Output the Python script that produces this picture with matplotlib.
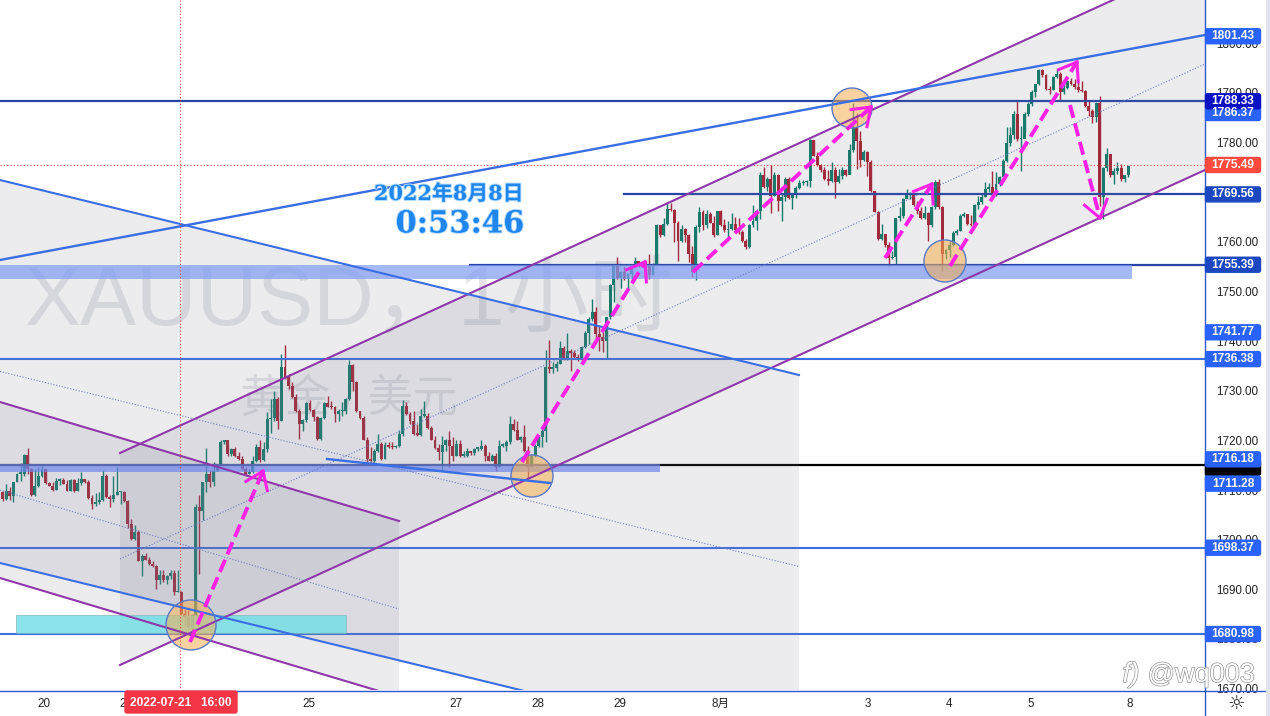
import math
import numpy as np
import matplotlib
matplotlib.use('Agg')
import matplotlib.pyplot as plt
import matplotlib.patches as mpatches
import matplotlib.patheffects as pe

plt.rcParams['font.family'] = ['Liberation Sans', 'Noto Sans CJK SC', 'DejaVu Sans']

# hourly XAUUSD bars
first_open = 1709.6
closes = [
    1708.2, 1709.9, 1708.7, 1711.6, 1713.3, 1713.3, 1717.0, 1714.3, 1708.9, 1710.9, 1712.9, 1714.3, 1711.4, 1710.9, 1710.1, 1711.9,
    1712.1, 1711.3, 1709.9, 1712.1, 1709.8, 1711.4, 1712.3, 1711.6, 1708.4, 1707.1, 1707.6, 1708.0, 1712.9, 1708.6, 1708.2, 1708.9,
    1709.6, 1709.6, 1707.8, 1703.1, 1700.2, 1701.5, 1695.7, 1696.8, 1695.9, 1695.0, 1694.6, 1691.9, 1692.8, 1691.9, 1692.6, 1693.3,
    1689.4, 1689.4, 1685.1, 1684.4, 1682.4, 1684.9, 1706.6, 1705.8, 1711.6, 1713.3, 1711.6, 1713.8, 1715.0, 1719.7,
    1720.0, 1717.3, 1718.3, 1716.9, 1716.2, 1714.2, 1713.2, 1713.6, 1715.8, 1718.7, 1716.0, 1718.3, 1724.3, 1724.5, 1728.3, 1724.0,
    1734.7, 1732.7, 1731.0, 1728.7, 1726.0, 1723.3, 1724.1, 1727.5, 1726.1, 1724.8, 1720.3, 1724.5, 1727.5, 1726.8, 1726.7, 1725.3,
    1725.9, 1726.0, 1728.3, 1735.1, 1731.7, 1725.9, 1724.5, 1720.1, 1716.2, 1715.8, 1717.9, 1719.3, 1716.2, 1719.1, 1718.7, 1718.6,
    1718.9, 1721.3, 1727.0, 1725.3, 1724.0, 1721.3, 1721.1, 1725.0, 1725.0, 1722.5, 1720.1, 1718.5, 1717.6, 1719.1, 1720.1, 1718.9,
    1716.9, 1719.3, 1716.9, 1716.9, 1717.8, 1717.4, 1718.3, 1718.3, 1718.9, 1716.9, 1715.9, 1716.9, 1714.7, 1718.9, 1718.9, 1719.6,
    1723.4, 1722.1, 1720.1, 1720.6, 1717.9, 1714.6, 1716.9, 1718.9, 1720.6,
    1721.9, 1734.7, 1734.4, 1734.6, 1735.4, 1738.7, 1736.4, 1738.1, 1737.7, 1736.7, 1736.1, 1738.9, 1741.6, 1744.5, 1745.8, 1741.4,
    1740.8, 1740.1, 1744.8, 1751.4, 1755.2, 1752.7, 1753.9, 1752.5, 1753.5, 1755.2, 1756.1, 1755.4, 1755.9, 1755.2, 1753.4, 1755.5,
    1763.3, 1761.3, 1763.6, 1766.6, 1766.4, 1763.9, 1760.2, 1762.6, 1761.3, 1757.6, 1753.9, 1762.9, 1766.0, 1763.3, 1765.6, 1763.9,
    1761.3, 1766.2, 1763.3, 1762.3, 1762.6, 1763.6, 1762.3, 1761.9, 1760.2, 1758.9, 1763.3, 1764.3, 1766.3,
    1773.5, 1771.1, 1772.7, 1769.3, 1773.5, 1768.3, 1769.1, 1772.7, 1768.8, 1769.6, 1770.9, 1771.8, 1772.0, 1772.3, 1780.5, 1777.4,
    1775.4, 1774.5, 1772.7, 1772.3, 1774.4, 1772.0, 1773.3, 1774.4, 1773.5, 1778.5, 1783.2, 1780.3, 1776.5, 1778.1, 1776.0, 1770.2,
    1766.1, 1760.6, 1761.5, 1759.4, 1756.7, 1756.9, 1764.8, 1765.3, 1768.6, 1769.6, 1769.6, 1767.5, 1766.3, 1764.9, 1765.8, 1763.3,
    1767.0, 1772.0, 1767.0, 1757.6,
    1758.3, 1759.4, 1761.7, 1762.2, 1765.3, 1765.6, 1763.6, 1763.3, 1767.5, 1768.0, 1769.1, 1770.6, 1771.1, 1769.5, 1771.7, 1773.0,
    1776.2, 1779.9, 1781.6, 1785.8, 1780.7, 1780.7, 1785.8, 1787.8, 1790.1, 1791.8, 1794.6, 1793.7, 1790.8, 1790.6, 1793.3, 1793.8,
    1790.1, 1791.1, 1792.4, 1791.8, 1791.3, 1790.6, 1790.3, 1787.4, 1786.4, 1785.2, 1787.9, 1769.0, 1774.9, 1777.8, 1773.5, 1774.3,
    1774.9, 1772.7, 1773.5, 1775.3,
]
highs = [
    1709.9, 1711.3, 1710.6, 1711.6, 1713.4, 1715.4, 1717.2, 1718.5, 1714.5, 1714.3, 1714.6, 1715.2, 1714.3, 1711.6, 1711.6, 1712.5,
    1712.4, 1712.4, 1712.1, 1712.3, 1712.3, 1712.5, 1713.6, 1712.3, 1712.1, 1708.9, 1709.4, 1709.6, 1714.0, 1713.3, 1708.9, 1712.9,
    1714.6, 1709.9, 1709.9, 1707.9, 1704.2, 1702.9, 1701.9, 1697.2, 1697.3, 1696.5, 1695.7, 1694.8, 1693.8, 1693.8, 1692.8, 1693.8,
    1693.9, 1693.8, 1689.6, 1686.1, 1685.9, 1685.1, 1707.2, 1708.9, 1711.6, 1718.5, 1714.0, 1715.6, 1715.3, 1720.0,
    1720.1, 1719.3, 1718.5, 1718.7, 1717.6, 1716.9, 1714.7, 1714.2, 1716.9, 1719.3, 1720.0, 1719.6, 1725.7, 1728.3, 1730.0, 1728.7,
    1737.4, 1739.3, 1733.4, 1731.7, 1729.3, 1726.3, 1724.3, 1727.7, 1728.1, 1726.3, 1725.0, 1724.8, 1727.7, 1729.0, 1728.0, 1727.0,
    1726.3, 1727.7, 1728.5, 1736.1, 1735.3, 1732.0, 1726.0, 1725.0, 1720.6, 1718.6, 1718.3, 1721.3, 1719.6, 1719.6, 1719.7, 1719.6,
    1719.1, 1722.0, 1728.1, 1727.7, 1725.7, 1726.0, 1723.3, 1726.3, 1728.0, 1725.5, 1722.8, 1720.9, 1719.3, 1720.9, 1720.3, 1721.8,
    1720.6, 1720.0, 1720.1, 1717.9, 1718.5, 1717.8, 1718.5, 1718.7, 1720.1, 1719.3, 1717.6, 1717.3, 1717.4, 1720.0, 1719.4, 1720.1,
    1725.0, 1724.3, 1724.0, 1720.9, 1723.0, 1718.9, 1717.3, 1719.3, 1720.9,
    1722.3, 1738.2, 1740.2, 1735.7, 1735.9, 1740.1, 1739.1, 1741.6, 1738.4, 1738.2, 1737.4, 1739.1, 1742.1, 1744.9, 1748.5, 1746.8,
    1743.1, 1741.8, 1744.9, 1751.5, 1755.5, 1756.9, 1754.2, 1755.2, 1753.7, 1755.2, 1756.9, 1756.2, 1756.2, 1756.2, 1757.6, 1755.7,
    1763.6, 1763.3, 1764.9, 1767.8, 1767.8, 1766.6, 1764.3, 1763.3, 1762.8, 1761.6, 1759.2, 1763.3, 1767.0, 1766.4, 1766.4, 1766.0,
    1765.3, 1766.3, 1766.4, 1764.6, 1764.3, 1765.8, 1765.0, 1764.8, 1762.4, 1760.6, 1763.6, 1767.5, 1766.6,
    1774.0, 1775.0, 1773.0, 1775.4, 1774.0, 1773.7, 1769.6, 1773.0, 1773.0, 1769.6, 1771.3, 1772.5, 1772.5, 1772.5, 1780.7, 1780.5,
    1778.1, 1775.7, 1775.0, 1774.5, 1776.0, 1775.0, 1774.7, 1775.0, 1774.7, 1779.7, 1788.0, 1786.0, 1782.4, 1778.5, 1778.4, 1776.4,
    1770.3, 1766.3, 1763.6, 1761.6, 1759.9, 1758.2, 1764.9, 1767.0, 1768.8, 1770.7, 1770.0, 1769.6, 1768.3, 1767.0, 1767.3, 1766.0,
    1767.3, 1772.4, 1772.7, 1767.3,
    1758.5, 1760.2, 1762.1, 1762.6, 1765.7, 1766.1, 1765.6, 1765.5, 1767.6, 1769.3, 1769.6, 1772.0, 1771.8, 1774.3, 1774.0, 1773.3,
    1776.7, 1783.1, 1783.1, 1786.4, 1788.3, 1783.4, 1786.1, 1788.1, 1790.6, 1791.9, 1794.8, 1794.8, 1793.8, 1791.5, 1793.5, 1794.8,
    1794.2, 1792.4, 1792.5, 1793.0, 1792.8, 1792.5, 1792.4, 1790.6, 1788.6, 1786.8, 1788.1, 1789.3, 1775.1, 1778.9, 1777.8, 1774.9,
    1776.0, 1775.7, 1773.5, 1775.3,
]
lows = [
    1707.8, 1708.0, 1708.0, 1707.6, 1711.6, 1711.9, 1712.9, 1713.3, 1708.7, 1708.7, 1710.6, 1712.6, 1711.3, 1710.8, 1709.9, 1710.1,
    1711.1, 1711.3, 1709.8, 1709.8, 1709.6, 1709.8, 1711.1, 1711.5, 1708.2, 1706.1, 1706.8, 1707.2, 1707.8, 1708.4, 1706.6, 1707.6,
    1708.9, 1707.2, 1707.6, 1702.4, 1700.0, 1700.0, 1695.7, 1692.6, 1695.8, 1694.8, 1694.5, 1690.1, 1691.1, 1691.4, 1691.0, 1692.1,
    1688.8, 1689.4, 1685.1, 1682.7, 1682.2, 1681.0, 1684.4, 1693.1, 1703.9, 1709.6, 1710.6, 1710.9, 1713.8, 1715.0,
    1719.3, 1716.9, 1716.9, 1716.6, 1716.0, 1714.0, 1713.1, 1713.2, 1713.4, 1715.6, 1715.6, 1715.9, 1717.6, 1721.4, 1724.0, 1722.3,
    1724.0, 1732.4, 1730.4, 1728.5, 1725.7, 1720.3, 1721.8, 1723.7, 1726.0, 1724.0, 1720.1, 1720.0, 1724.3, 1726.7, 1726.3, 1723.8,
    1724.0, 1725.0, 1725.3, 1728.1, 1730.0, 1725.7, 1724.3, 1720.0, 1715.1, 1715.1, 1715.4, 1717.6, 1716.0, 1716.2, 1718.5, 1718.3,
    1718.5, 1718.6, 1720.9, 1725.2, 1723.3, 1721.1, 1720.9, 1720.9, 1724.8, 1722.3, 1720.0, 1718.3, 1716.0, 1713.8, 1717.9, 1714.6,
    1715.9, 1716.9, 1716.6, 1716.7, 1716.7, 1717.1, 1717.1, 1717.9, 1718.1, 1715.9, 1715.8, 1715.8, 1713.8, 1714.6, 1718.6, 1717.9,
    1719.3, 1721.8, 1720.0, 1719.6, 1717.6, 1711.9, 1714.6, 1716.6, 1718.6,
    1718.6, 1719.6, 1733.5, 1733.5, 1733.9, 1735.4, 1736.1, 1736.1, 1734.0, 1736.4, 1735.9, 1735.7, 1738.7, 1739.5, 1744.1, 1740.4,
    1738.1, 1737.9, 1736.4, 1744.5, 1747.8, 1752.5, 1750.8, 1752.3, 1750.5, 1752.3, 1754.7, 1755.0, 1755.2, 1752.7, 1752.5, 1753.4,
    1755.4, 1760.9, 1761.1, 1763.3, 1766.2, 1759.9, 1756.2, 1759.9, 1759.9, 1755.9, 1753.0, 1752.3, 1761.9, 1762.3, 1762.8, 1763.7,
    1760.9, 1761.3, 1763.1, 1761.9, 1760.6, 1762.4, 1762.1, 1761.6, 1759.9, 1758.6, 1758.8, 1762.9, 1762.3,
    1764.6, 1770.9, 1770.3, 1765.8, 1769.3, 1766.3, 1764.3, 1768.3, 1768.6, 1766.6, 1768.9, 1770.7, 1771.5, 1771.3, 1771.1, 1777.2,
    1775.2, 1774.0, 1772.5, 1771.5, 1772.0, 1768.9, 1771.8, 1772.7, 1773.3, 1773.7, 1778.2, 1774.7, 1775.0, 1776.2, 1773.3, 1770.0,
    1766.0, 1760.4, 1760.4, 1758.9, 1755.2, 1756.6, 1755.6, 1764.3, 1764.9, 1768.8, 1768.6, 1767.3, 1765.6, 1764.6, 1764.6, 1760.2,
    1762.9, 1766.6, 1766.6, 1754.2,
    1756.5, 1756.9, 1759.2, 1761.4, 1762.2, 1765.0, 1763.4, 1763.1, 1763.1, 1766.6, 1767.6, 1769.0, 1770.0, 1769.3, 1769.3, 1771.3,
    1772.9, 1776.0, 1779.4, 1780.7, 1780.4, 1774.3, 1782.1, 1785.4, 1787.4, 1789.1, 1791.7, 1793.3, 1790.5, 1789.8, 1790.5, 1793.0,
    1788.6, 1789.8, 1790.8, 1791.7, 1790.8, 1790.1, 1790.1, 1787.1, 1785.4, 1783.9, 1784.1, 1767.3, 1764.6, 1774.3, 1773.0, 1771.7,
    1773.7, 1772.3, 1772.0, 1773.0,
]
opens = [first_open] + closes[:-1]

price_ticks = [1670, 1680, 1690, 1700, 1710, 1720, 1730, 1740, 1750, 1760, 1770, 1780, 1790, 1800]
day_bars = [11.6, 34.5, 85.7, 126.9, 149.8, 172.8, 201.0, 242.0, 264.9, 287.8, 315.5]
day_labels = ['20', '21', '25', '27', '28', '29', '8月', '3', '4', '5', '8']

# horizontal levels
levels_blue = [1736.38, 1698.37, 1680.98]
levels_dark = [1788.33]
level_black = 1715.1
level_last = 1775.49

# price tags on the right scale
tag_prices = [1801.43, 1786.37, 1788.33, 1775.49, 1769.56, 1755.39, 1741.77, 1736.38, 1714.7, 1716.18, 1711.28, 1698.37, 1680.98]
tag_colors = ['#2962ff', '#2962ff', '#0a12c4', '#ff4a3d', '#1b48c0', '#1b48c0', '#2962ff', '#2962ff', '#000000', '#2962ff', '#2962ff', '#2962ff', '#2962ff']
tag_shift = [0, 2, 0, 0, 0, 0, 0, 0, 1, 0, 0, 0, 0]

W, H = 1270, 716
PLOT_R, PLOT_B = 1205, 690
UP, DOWN = '#0a7a66', '#a81f2e'
PURPLE = '#8f37aa'
BLUE = '#3a6ee4'
DARK = '#2444a8'
MAGENTA = '#ff22e6'
GREYFILL = '#7a7a92'

fig = plt.figure(figsize=(W / 100, H / 100), dpi=100, facecolor='white')
ax = fig.add_axes([0, 1 - PLOT_B / H, PLOT_R / W, PLOT_B / H])
ax.set_xlim(-2.7 / 3.573, (PLOT_R - 2.7) / 3.573)
ax.set_ylim(1780 - (PLOT_B - 142.6) / 4.963, 1780 + 142.6 / 4.963)
for s in ax.spines.values():
    s.set_visible(False)
ax.yaxis.tick_right()
ax.set_yticks(price_ticks)
ax.set_yticklabels(['%.2f' % p for p in price_ticks], fontsize=8.4, color='#222222')
ax.set_xticks(day_bars)
ax.set_xticklabels(day_labels, fontsize=8.4, color='#222222')
ax.tick_params(axis='y', length=0, pad=8)
ax.tick_params(axis='x', length=0, pad=6)

# watermark goes under the bars
wm = ax.transAxes
ax.text(24 / PLOT_R, 1 - 303 / PLOT_B, 'XAUUSD，1小时', transform=wm, fontsize=60.5, color=GREYFILL, alpha=0.2,
        ha='left', va='center', zorder=0)
ax.text(240 / PLOT_R, 1 - 400 / PLOT_B, '黄金 / 美元', transform=wm, fontsize=32.5, color=GREYFILL, alpha=0.2,
        ha='left', va='center', zorder=0)

# candles
x = np.arange(len(closes))
o = np.array(opens)
c = np.array(closes)
colors = [UP if cl >= op else DOWN for op, cl in zip(o, c)]
ax.vlines(x, lows, highs, colors=colors, linewidth=1.0, zorder=2)
ax.bar(x, np.maximum(np.abs(c - o), 0.3), bottom=np.minimum(o, c), width=0.82, color=colors, linewidth=0, zorder=3)

# levels drawn by price
for lv in levels_blue:
    ax.axhline(lv, color=BLUE, lw=1.5, zorder=4)
for lv in levels_dark:
    ax.axhline(lv, color=DARK, lw=1.6, zorder=4)
ax.axhline(level_black, color='black', lw=1.6, zorder=4)
ax.axhline(level_last, color='#e0453a', lw=0.8, ls=(0, (1, 2)), zorder=4)
ax.plot([(624 - 2.7) / 3.573, ax.get_xlim()[1]], [1769.56, 1769.56], color=DARK, lw=1.6, zorder=4)
ax.plot([(470 - 2.7) / 3.573, ax.get_xlim()[1]], [1755.39, 1755.39], color=DARK, lw=1.6, zorder=4)

# drawings sit on top, in pixel coordinates of the screenshot
pix = fig.add_axes([0, 0, 1, 1])
pix.set_xlim(0, W)
pix.set_ylim(H, 0)
pix.axis('off')
area = mpatches.Rectangle((0, 0), PLOT_R, PLOT_B, transform=pix.transData)


def clipped(artist):
    artist.set_clip_path(area)
    return artist


def channel(x0, x1, top0, top1, bot0, bot1, color):
    poly = mpatches.Polygon([(x0, top0), (x1, top1), (x1, bot1), (x0, bot0)], closed=True,
                            facecolor=GREYFILL, alpha=0.14, linewidth=0, zorder=1)
    pix.add_patch(poly)
    clipped(poly)
    clipped(pix.plot([x0, x1], [top0, top1], color=color, lw=1.5, zorder=5)[0])
    clipped(pix.plot([x0, x1], [bot0, bot1], color=color, lw=1.5, zorder=5)[0])
    clipped(pix.plot([x0, x1], [(top0 + bot0) / 2, (top1 + bot1) / 2], color='#6f7fc4', lw=0.8,
                     ls=(0, (1, 1.6)), zorder=5)[0])


channel(120, 1205, 453, -42, 665, 170, PURPLE)
channel(0, 399, 402, 521, 578, 697, PURPLE)
channel(0, 799, 180, 375, 563, 758, BLUE)

# supply / demand boxes
pix.add_patch(mpatches.Rectangle((0, 265), 1132, 14, facecolor='#7f9cf5', alpha=0.7, edgecolor='none', zorder=2))
pix.add_patch(mpatches.Rectangle((0, 464), 660, 8, facecolor='#6f86ec', alpha=0.7, edgecolor='none', zorder=2))
pix.add_patch(mpatches.Rectangle((16, 615), 330, 18, facecolor='#6fdde6', alpha=0.8, edgecolor='#7fb8b8', lw=0.6, zorder=2))

# free trend lines
pix.plot([0, PLOT_R], [260, 35], color=BLUE, lw=1.7, zorder=5)
pix.plot([327, 550], [459, 483], color=BLUE, lw=1.7, zorder=5)

# crosshair
pix.plot([180, 180], [0, PLOT_B], color='#e0453a', lw=0.8, ls=(0, (1, 2)), zorder=5)

# circles
for cx, cy, r in [(191, 625, 25), (532, 476, 21), (852, 108, 20), (945, 261, 21)]:
    pix.add_patch(mpatches.Circle((cx, cy), r, facecolor='#f6ae52', alpha=0.55, edgecolor='none', zorder=4.5))
    pix.add_patch(mpatches.Circle((cx, cy), r, facecolor='none', edgecolor='#5a78c8', lw=1.0, zorder=6))


def dash_arrow(x0, y0, x1, y1):
    pix.plot([x0, x1], [y0, y1], color=MAGENTA, lw=2.8, ls=(0, (3.4, 1.5)), zorder=7)
    ang = math.atan2(y0 - y1, x0 - x1)
    for d in (-0.62, 0.62):
        pix.plot([x1, x1 + 20 * math.cos(ang + d)], [y1, y1 + 20 * math.sin(ang + d)], color=MAGENTA, lw=2.2,
                 zorder=7)


dash_arrow(190, 642, 263, 471)
dash_arrow(522, 462, 645, 262)
dash_arrow(693, 272, 871, 107)
dash_arrow(885, 258, 932, 184)
dash_arrow(950, 266, 1077, 62)
dash_arrow(1070, 105, 1100, 218)

# clock text
halo = [pe.withStroke(linewidth=1.4, foreground='#b5dcff')]
pix.text(524, 194, '2022年8月8日', family=['DejaVu Serif', 'Noto Sans CJK SC'], fontsize=15, fontweight='bold',
         color='#1f86ee', ha='right', va='center', path_effects=halo, zorder=8)
pix.text(524, 224, '0:53:46', family='DejaVu Serif', fontsize=22, fontweight='bold',
         color='#1f86ee', ha='right', va='center', path_effects=halo, zorder=8)

# frame of the price and time scales
pix.plot([PLOT_R, PLOT_R], [0, H], color='#2a5ad0', lw=1.0, zorder=9)
pix.plot([0, 1265], [690.5, 690.5], color='#2a5ad0', lw=1.0, zorder=9)
pix.add_patch(mpatches.Rectangle((1265.5, 0), 4.5, H, facecolor='#e0e3eb', edgecolor='none', zorder=9))

# price tags
fig.canvas.draw()
for p, col, shift in zip(tag_prices, tag_colors, tag_shift):
    y = H - ax.transData.transform((0, p))[1] + shift
    pix.add_patch(mpatches.FancyBboxPatch((PLOT_R + 0.5, y - 7.5), 55, 15, boxstyle='round,pad=0,rounding_size=2',
                                          mutation_aspect=1, facecolor=col, edgecolor=col, lw=1.0, zorder=10))
    if col != '#000000':
        pix.text(PLOT_R + 28, y, '%.2f' % p, color='white', fontsize=8.6, fontweight='bold', ha='center', va='center',
                 zorder=11)

# crosshair date tag
pix.add_patch(mpatches.FancyBboxPatch((125, 691), 112, 22, boxstyle='round,pad=0,rounding_size=2',
                                      facecolor='#f23645', edgecolor='#f23645', lw=1, zorder=10))
pix.text(181, 703.5, '2022-07-21   16:00', color='white', fontsize=8.6, fontweight='bold', ha='center', va='center', zorder=11)

# settings icon and the site watermark
pix.text(1236, 703, '☼', family='DejaVu Sans', fontsize=14, color='#222222', ha='center', va='center', zorder=11)
outline = [pe.withStroke(linewidth=0.9, foreground='#8a8a8a')]
pix.text(1255, 675, '@wq003', fontsize=19.5, color='white', ha='right', va='center', path_effects=outline, zorder=12)
pix.text(1131, 675, 'f)', fontsize=20, style='italic', color='white', ha='center', va='center', path_effects=outline, zorder=12)

fig.savefig('out.png', dpi=100)
